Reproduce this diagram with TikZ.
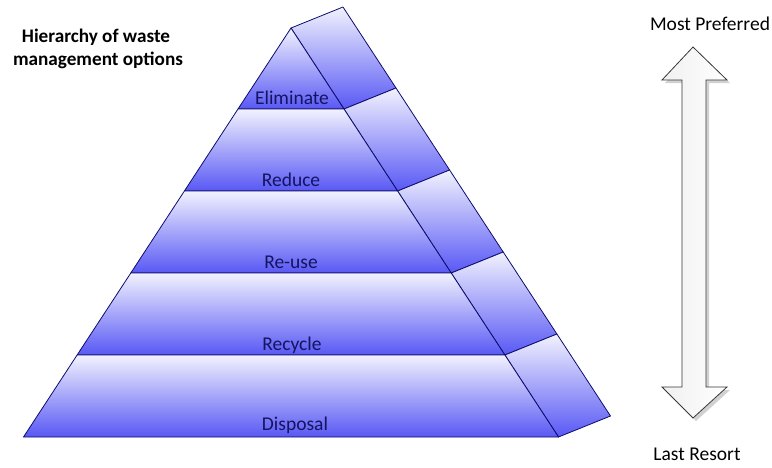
\documentclass[tikz,border=0pt]{standalone}
\usepackage{fontspec}
\setmainfont{Carlito}
\definecolor{pyrtop}{RGB}{242,242,254}
\definecolor{pyrbot}{RGB}{88,88,245}
\definecolor{pyrline}{RGB}{12,12,110}
\definecolor{labcol}{RGB}{20,20,95}
\definecolor{arrline}{RGB}{55,55,55}
\begin{document}
\begin{tikzpicture}[x=1pt,y=-1pt,
  face/.style={draw=pyrline, line width=0.8pt, line join=round, top color=pyrtop, bottom color=pyrbot},
  lab/.style={anchor=base, text=labcol, font=\fontsize{19.5}{23}\selectfont},
  ttl/.style={anchor=base, font=\bfseries\fontsize{19.2}{23}\selectfont},
  side/.style={anchor=base, font=\fontsize{19.5}{23}\selectfont},
  arrowshape/.style={draw=arrline, line width=0.8pt, line join=miter, left color=white!88!gray, right color=white},
  arrowshadow/.style={fill=black, opacity=0.18, draw=none}
]
\useasboundingbox (0,0) rectangle (772,467);
% front edge points
\coordinate (A)  at (291,28);
\coordinate (L1) at (238,109);   \coordinate (R1) at (344,109);
\coordinate (L2) at (184.4,191); \coordinate (R2) at (397.6,191);
\coordinate (L3) at (130.8,273); \coordinate (R3) at (451.2,273);
\coordinate (L4) at (77.1,355);  \coordinate (R4) at (504.9,355);
\coordinate (L5) at (23.5,437);  \coordinate (R5) at (558.5,437);
% back edge points
\coordinate (B0) at (343,7);
\coordinate (B1) at (396,88);
\coordinate (B2) at (449.6,170);
\coordinate (B3) at (503.2,252);
\coordinate (B4) at (556.9,334);
\coordinate (B5) at (610.5,416);
% side faces
\path[face] (A) -- (B0) -- (B1) -- (R1) -- cycle;
\path[face] (R1) -- (B1) -- (B2) -- (R2) -- cycle;
\path[face] (R2) -- (B2) -- (B3) -- (R3) -- cycle;
\path[face] (R3) -- (B3) -- (B4) -- (R4) -- cycle;
\path[face] (R4) -- (B4) -- (B5) -- (R5) -- cycle;
% front faces
\path[face] (A) -- (R1) -- (L1) -- cycle;
\path[face] (L1) -- (R1) -- (R2) -- (L2) -- cycle;
\path[face] (L2) -- (R2) -- (R3) -- (L3) -- cycle;
\path[face] (L3) -- (R3) -- (R4) -- (L4) -- cycle;
\path[face] (L4) -- (R4) -- (R5) -- (L5) -- cycle;
% labels
\node[lab] (eliminate) at (292,104) {Eliminate};
\node[lab] (reduce)    at (291,186) {Reduce};
\node[lab] (reuse)     at (291,268) {Re-use};
\node[lab] (recycle)   at (292,350) {Recycle};
\node[lab] (disposal)  at (295,430) {Disposal};
% title
\node[ttl] (title1) at (96,42) {Hierarchy of waste};
\node[ttl] (title2) at (98,65) {management options};
% double arrow
\path[arrowshadow] (696,50) -- (730,83) -- (709,83) -- (709,390) -- (730,390) -- (696,421) -- (665,390) -- (685,390) -- (685,83) -- (665,83) -- cycle;
\path[arrowshape] (693,47) -- (727,80) -- (706,80) -- (706,387) -- (727,387) -- (693,418) -- (662,387) -- (682,387) -- (682,80) -- (662,80) -- cycle;
\node[side] (most) at (710,30) {Most Preferred};
\node[side] (last) at (697,460) {Last Resort};
\end{tikzpicture}
\end{document}
